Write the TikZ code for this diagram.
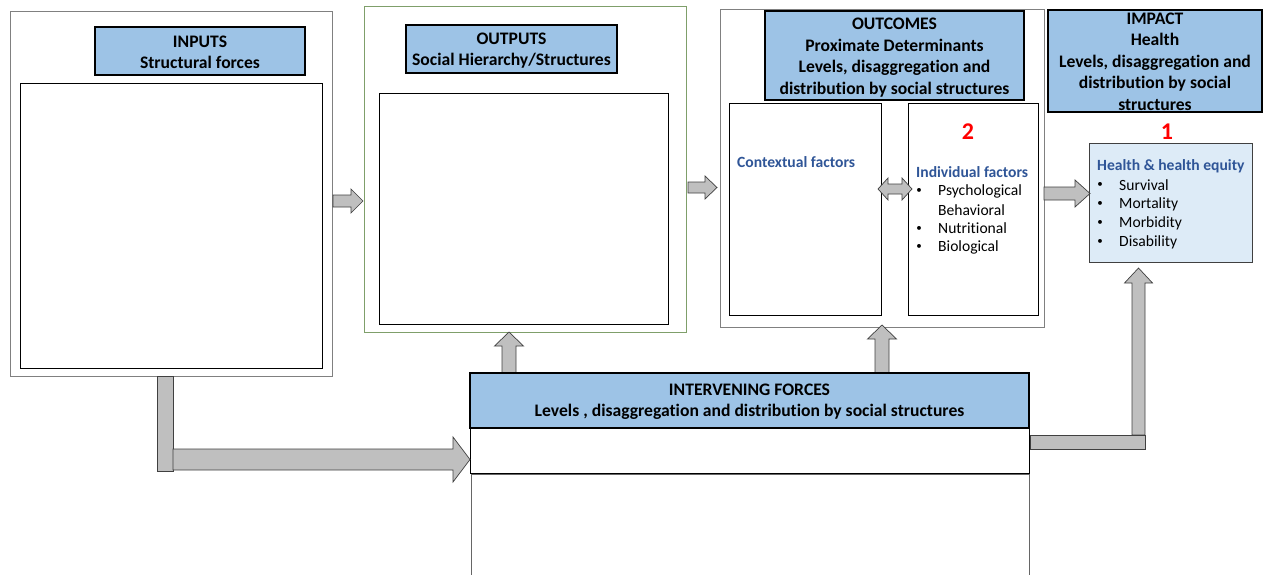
\documentclass[tikz,border=0pt]{standalone}
\usepackage{fontspec}
\setmainfont{Carlito}[Ligatures=NoCommon]
\definecolor{hdrblue}{HTML}{9DC3E6}
\definecolor{hlblue}{HTML}{DDEBF7}
\definecolor{tblue}{HTML}{2F5597}
\definecolor{arrgray}{HTML}{BFBFBF}
\definecolor{olgreen}{HTML}{7F9F6A}
\newcommand\rarw[6]{%
  \draw[barw] (#1,#3-#4) -- (#2-#6,#3-#4) -- (#2-#6,#3-#5) -- (#2,#3) -- (#2-#6,#3+#5) -- (#2-#6,#3+#4) -- (#1,#3+#4) -- cycle;}
\newcommand\uarw[6]{%
  \draw[barw] (#1-#4,#2) -- (#1-#4,#3+#6) -- (#1-#5,#3+#6) -- (#1,#3) -- (#1+#5,#3+#6) -- (#1+#4,#3+#6) -- (#1+#4,#2) -- cycle;}
\newcommand\darw[6]{%
  \draw[barw] (#1+#6,#3-#4) -- (#2-#6,#3-#4) -- (#2-#6,#3-#5) -- (#2,#3) -- (#2-#6,#3+#5) -- (#2-#6,#3+#4) -- (#1+#6,#3+#4) -- (#1+#6,#3+#5) -- (#1,#3) -- (#1+#6,#3-#5) -- cycle;}
\tikzset{
  outerbox/.style={draw=black!50, line width=1pt, inner sep=0pt},
  innerbox/.style={draw=black, line width=0.8pt, inner sep=0pt},
  hdr/.style={draw=black, line width=2.5pt, fill=hdrblue, inner sep=0pt},
  hdrtxt/.style={inner sep=0pt, align=center, font=\fontsize{17.6}{21.5}\selectfont\bfseries},
  barw/.style={fill=arrgray, draw=black!75, line width=0.7pt, line join=miter},
  itm/.style={anchor=west, inner sep=0pt, font=\fontsize{15.6}{18}\selectfont},
  bul/.style={anchor=center, inner sep=0pt, font=\fontsize{11}{14}\selectfont},
  ttl/.style={anchor=west, inner sep=0pt, text=tblue, font=\fontsize{15.6}{18}\selectfont\bfseries},
  num/.style={anchor=center, inner sep=0pt, text=red, font=\fontsize{24}{26}\selectfont\bfseries}
}
\begin{document}
\begin{tikzpicture}[x=1pt,y=-1pt]
\useasboundingbox (0,0) rectangle (1264,575);
% INPUTS
\node[outerbox, minimum width=322, minimum height=364] (inout) at (171,194) {};
\node[innerbox, minimum width=302, minimum height=285] (inin) at (171,225.5) {};
\node[hdr, minimum width=210, minimum height=48] (inhdr) at (200,51) {};
\node[hdrtxt] (inhdrt) at (200,52.5) {INPUTS\\Structural forces};
% OUTPUTS
\node[draw=olgreen, line width=1pt, inner sep=0pt, minimum width=322, minimum height=325] (outout) at (525,169.5) {};
\node[innerbox, minimum width=289, minimum height=231] (outin) at (523.5,208.5) {};
\node[hdr, minimum width=211, minimum height=48] (outhdr) at (511.5,49) {};
\node[hdrtxt] (outhdrt) at (511.5,50.5) {OUTPUTS\\Social Hierarchy/Structures};
% OUTCOMES
\node[outerbox, minimum width=324, minimum height=317] (ocout) at (882,168.5) {};
\node[innerbox, minimum width=152, minimum height=212] (ctx) at (805,209) {};
\node[innerbox, minimum width=130, minimum height=212] (indv) at (973,209) {};
\node[hdr, minimum width=259, minimum height=89] (ochdr) at (894.5,55.5) {};
\node[hdrtxt] (ochdrt) at (894.5,57.5) {OUTCOMES\\Proximate Determinants\\Levels, disaggregation and\\distribution by social structures};
\node[ttl] (ctxt) at (737,162) {Contextual factors};
\node[num] (n2) at (968,132) {2};
\node[ttl] (indt) at (916,172) {Individual factors};
\node[bul] (b1) at (919,191) {•};
\node[itm] (i1) at (938,191) {Psychological};
\node[itm] (i1b) at (938,210) {Behavioral};
\node[bul] (b2) at (919,228.5) {•};
\node[itm] (i2) at (938,228.5) {Nutritional};
\node[bul] (b3) at (919,247) {•};
\node[itm] (i3) at (938,247) {Biological};
% IMPACT
\node[hdr, minimum width=214, minimum height=102] (imhdr) at (1155,61) {};
\node[hdrtxt] (imhdrt) at (1155,61.5) {IMPACT\\Health\\Levels, disaggregation and\\distribution by social\\structures};
\node[num] (n1) at (1167,132) {1};
\node[draw=black!75, line width=0.8pt, fill=hlblue, inner sep=0pt, minimum width=163, minimum height=119] (hbox) at (1170.5,202.5) {};
\node[ttl] (ht) at (1097,166) {Health \& health equity};
\node[bul] (hb1) at (1100,185) {•};
\node[itm] (h1) at (1119,185) {Survival};
\node[bul] (hb2) at (1100,204) {•};
\node[itm] (h2) at (1119,204) {Mortality};
\node[bul] (hb3) at (1100,223) {•};
\node[itm] (h3) at (1119,223) {Morbidity};
\node[bul] (hb4) at (1100,242) {•};
\node[itm] (h4) at (1119,242) {Disability};
% INTERVENING
\draw[draw=black!60, line width=0.8pt] (471,580) -- (471,474) -- (1029,474) -- (1029,580);
\node[draw=black, line width=0.8pt, inner sep=0pt, minimum width=559, minimum height=45] (ivbox) at (749.5,450.5) {};
% arrows
\uarw{509}{373}{332}{7}{14.5}{14}
\uarw{882}{373}{325}{7}{14.5}{14}
\node[hdr, minimum width=559, minimum height=55] (ivhdr) at (749.5,400.5) {};
\node[hdrtxt] (ivhdrt) at (749.5,401.5) {INTERVENING FORCES\\Levels , disaggregation and distribution by social structures};
\rarw{333}{363}{201}{6}{12}{12}
\rarw{688}{717}{187.5}{5.5}{11.5}{12}
\rarw{1044}{1090}{193.5}{6.5}{13.5}{15}
\darw{878}{912}{189}{5}{11}{10}
\draw[barw] (157,376) rectangle (173,471);
\rarw{173}{470}{459.5}{10.5}{22.5}{17}
\uarw{1138.5}{435}{268}{6.5}{14}{15}
\draw[barw] (1030,435) rectangle (1145,449);
\end{tikzpicture}
\end{document}
